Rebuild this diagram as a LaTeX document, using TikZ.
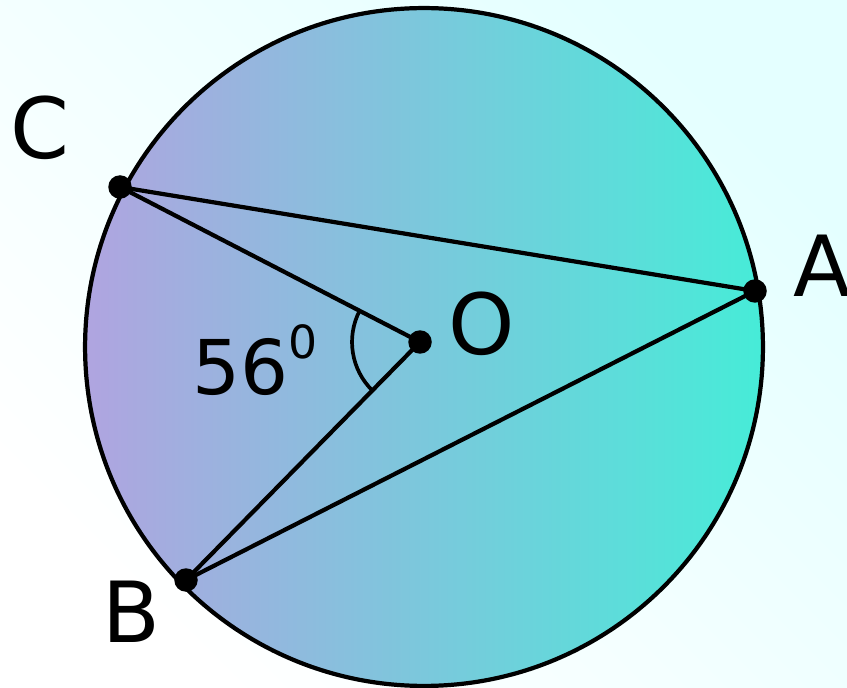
\documentclass[tikz,border=0pt]{standalone}
\usepackage{fontspec}
\setmainfont{DejaVu Sans}
\usetikzlibrary{positioning}

\definecolor{bgcyan}{RGB}{228,255,255}
\definecolor{lavender}{RGB}{176,164,224}
\definecolor{turq}{RGB}{70,236,216}

\begin{document}
\begin{tikzpicture}[
  x=0.02cm, y=-0.02cm,
  line width=2.4pt,
  dot/.style={circle, fill=black, inner sep=0pt, minimum size=0.47cm},
  lbl/.style={inner sep=0pt, font=\fontsize{48}{48}\selectfont}
]

% background
\fill[top color=bgcyan, bottom color=white, shading angle=-45] (0,0) rectangle (847,688);
\useasboundingbox (0,0) rectangle (847,688);

% circle
\draw[left color=lavender, right color=turq] (424,347) circle[radius=6.78cm];

\node[dot] (C) at (120,187) {};
\node[dot] (A) at (755,291) {};
\node[dot] (B) at (186,580) {};
\node[dot] (O) at (420,342) {};

\node[lbl] (labC) at (40,128) {C};
\node[lbl] (labA) at (822,266) {A};
\node[lbl] (labB) at (131,612) {B};
\node[lbl] (labO) at (482,324) {O};
\node[inner sep=0pt, font=\fontsize{43}{43}\selectfont] (ang) at (255,360)
  {56\raisebox{0.48em}{\fontsize{26}{26}\selectfont 0}};

\draw (C.center) -- (A.center);
\draw (A.center) -- (B.center);
\draw (C.center) -- (O.center);
\draw (O.center) -- (B.center);

% angle mark
\draw[line width=2.1pt] ([shift={(152.7:1.36cm)}]O.center)
  arc[start angle=152.7, end angle=225.5, radius=1.36cm];

\end{tikzpicture}
\end{document}
